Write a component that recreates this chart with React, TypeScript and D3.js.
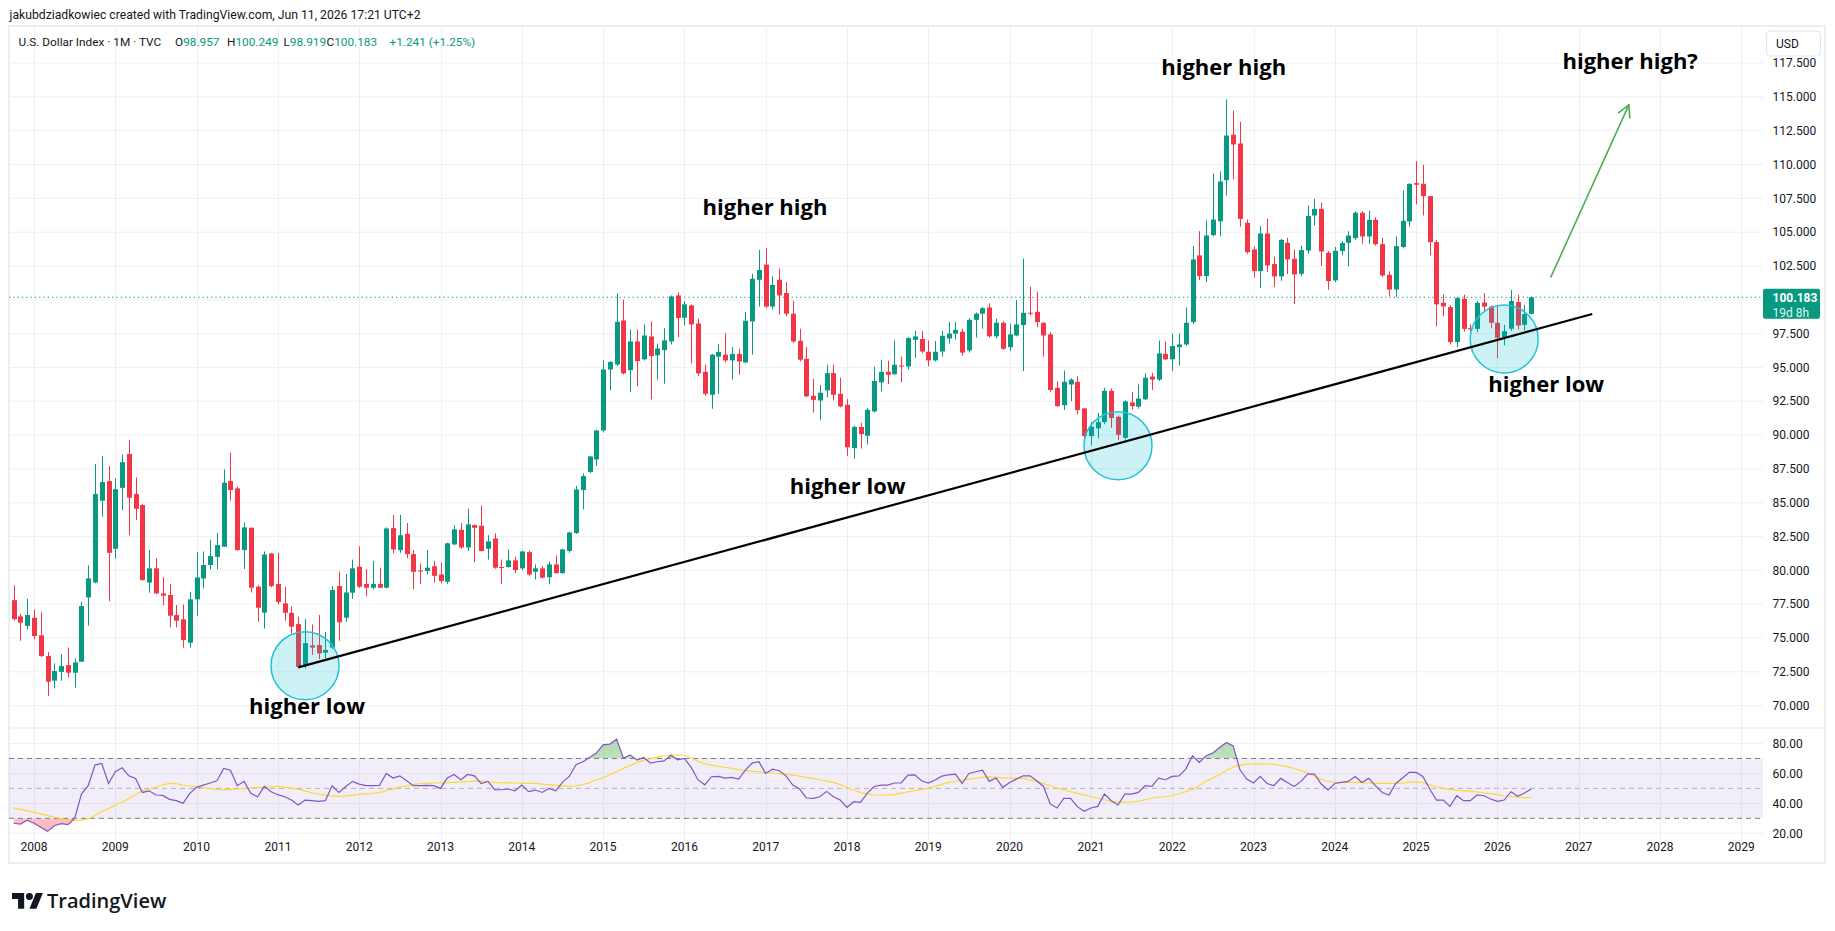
import * as d3 from "d3";

// Monthly bars of the U.S. Dollar Index, first bar = Oct 2007
const firstBarOffset = -3; // months relative to Jan 2008

const opens = [
  77.8, 76.6, 75.9,
  76.5, 75.2, 73.67, 71.85, 72.5, 73.0, 72.44, 73.25, 78.0, 79.11, 85.15, 86.6,
  81.6, 86.1, 88.6, 85.64, 84.83, 79.1, 80.15, 78.3, 78.18, 76.7, 76.38, 74.65,
  77.86, 79.4, 80.4, 81.0, 81.75, 86.6, 86.06, 81.5, 83.15, 78.8, 76.87, 81.25,
  79.0, 77.56, 76.87, 76.03, 73.0, 74.46, 74.48, 73.92, 74.3, 78.84, 76.5, 78.35,
  80.27, 79.0, 78.72, 79.0, 78.72, 83.13, 81.5, 82.7, 81.2, 80.0, 79.95, 80.3,
  79.7, 79.16, 81.92, 83.0, 81.7, 83.35, 83.3, 81.6, 82.36, 80.25, 80.25, 80.74,
  80.15, 81.35, 79.9, 80.15, 79.5, 80.44, 79.8, 81.43, 82.76, 85.94, 87.27, 88.2,
  90.34, 94.85, 95.22, 98.47, 94.8, 96.92, 95.6, 97.29, 95.9, 96.28, 96.92, 100.32,
  98.67, 99.58, 98.25, 94.68, 92.98, 95.8, 95.94, 95.52, 96.0, 95.37, 98.4, 101.48,
  102.6, 99.5, 101.48, 100.5, 98.97, 96.97, 95.64, 92.9, 92.56, 93.3, 94.58, 93.05,
  92.24, 89.04, 90.6, 89.95, 91.75, 93.9, 94.68, 94.5, 95.14, 95.07, 97.04, 97.1,
  96.16, 95.52, 96.18, 97.14, 97.5, 97.64, 96.26, 98.52, 98.97, 99.43, 97.3, 98.3,
  96.5, 97.36, 98.13, 99.04, 99.11, 98.3, 97.44, 93.5, 92.21, 93.74, 93.94, 91.97,
  89.93, 90.5, 90.96, 93.27, 91.35, 89.8, 92.41, 92.1, 92.64, 94.33, 94.1, 96.0,
  95.6, 96.5, 96.7, 98.35, 103.28, 101.75, 104.78, 105.8, 108.84, 112.2, 111.55, 105.69,
  103.72, 102.12, 104.9, 102.64, 101.73, 104.21, 103.03, 101.92, 103.64, 106.23, 106.72, 103.47,
  101.43, 103.6, 104.21, 104.56, 106.43, 104.68, 105.91, 104.11, 101.85, 100.76, 103.9, 105.79,
  108.62, 108.57, 107.66, 104.26, 99.78, 99.46, 96.87, 100.07, 97.9, 97.85, 99.8, 99.5,
  98.3, 97.24, 97.86, 99.83, 98.15, 98.957,
];

const highs = [
  78.9, 76.8, 77.9,
  77.1, 76.9, 73.97, 73.13, 73.8, 74.3, 73.5, 77.66, 80.37, 87.86, 88.45, 87.7,
  86.8, 88.57, 89.63, 86.87, 84.9, 81.5, 80.9, 79.5, 78.99, 77.44, 77.49, 78.42,
  81.38, 81.4, 82.24, 82.76, 87.46, 88.7, 86.2, 83.55, 83.18, 78.9, 81.4, 81.3,
  81.3, 78.8, 77.34, 76.58, 76.4, 76.0, 76.7, 75.45, 78.84, 79.9, 79.73, 80.8,
  81.78, 80.1, 80.7, 80.2, 83.18, 84.09, 84.1, 83.5, 81.5, 80.5, 81.5, 80.7,
  80.57, 82.05, 83.33, 83.5, 84.56, 83.4, 84.8, 82.6, 82.73, 80.8, 81.55, 81.0,
  81.45, 81.45, 80.44, 80.3, 80.66, 81.1, 81.6, 82.85, 86.23, 87.17, 88.45, 90.4,
  95.52, 95.47, 100.47, 100.0, 97.8, 97.8, 98.18, 98.4, 96.75, 97.9, 100.32, 100.54,
  99.9, 99.66, 98.6, 95.2, 96.0, 96.75, 97.54, 96.5, 96.38, 99.1, 101.92, 103.7,
  103.82, 101.77, 102.3, 101.3, 99.93, 97.86, 96.5, 94.16, 93.7, 95.2, 95.2, 94.24,
  92.66, 90.7, 90.9, 92.0, 95.05, 95.57, 95.5, 97.0, 95.8, 97.24, 97.7, 97.7,
  97.0, 96.95, 97.7, 98.37, 98.37, 97.86, 98.65, 99.06, 99.46, 99.73, 98.6, 98.4,
  98.25, 99.98, 103.05, 100.96, 100.6, 98.35, 97.6, 93.99, 94.78, 94.2, 94.36, 92.0,
  90.96, 91.65, 93.5, 93.44, 91.45, 92.56, 93.2, 93.74, 94.56, 94.6, 96.99, 96.92,
  97.5, 97.5, 99.43, 103.97, 105.07, 105.86, 109.33, 109.5, 114.8, 113.99, 113.15, 105.94,
  103.95, 105.44, 105.98, 103.18, 104.5, 104.58, 103.72, 104.0, 106.97, 107.46, 107.17, 103.6,
  103.9, 104.33, 105.07, 106.55, 106.55, 106.58, 106.1, 104.58, 102.1, 104.7, 108.08, 108.6,
  110.25, 109.98, 107.66, 104.43, 100.4, 99.6, 100.2, 100.37, 98.2, 99.9, 100.5, 99.58,
  99.58, 98.15, 100.73, 100.37, 99.63, 100.249,
];

const lows = [
  76.3, 74.8, 75.64,
  74.9, 73.6, 70.71, 71.28, 71.85, 72.1, 71.33, 73.25, 75.91, 79.04, 83.97, 77.73,
  80.86, 84.46, 82.6, 83.72, 79.24, 78.35, 78.25, 77.44, 75.79, 75.79, 74.29, 74.29,
  76.65, 78.67, 80.07, 80.07, 81.75, 85.15, 81.45, 80.1, 78.37, 76.2, 75.7, 78.75,
  77.5, 76.28, 75.34, 72.83, 72.76, 73.75, 73.45, 73.5, 74.2, 74.8, 76.2, 77.9,
  78.7, 78.1, 78.6, 78.7, 78.67, 81.26, 81.3, 80.9, 78.6, 79.0, 79.7, 79.1,
  79.05, 79.0, 81.85, 81.6, 81.43, 80.6, 81.4, 80.8, 80.12, 79.0, 80.2, 79.8,
  80.0, 79.6, 79.33, 79.4, 78.97, 79.75, 79.75, 81.3, 82.7, 84.5, 87.2, 87.7,
  90.2, 93.3, 95.1, 94.48, 93.18, 93.6, 95.5, 92.64, 94.1, 93.8, 96.7, 97.24,
  98.1, 95.3, 94.36, 92.9, 91.95, 93.05, 95.37, 94.1, 94.46, 95.3, 95.94, 99.5,
  99.4, 99.3, 98.9, 98.77, 96.8, 95.45, 92.8, 91.67, 91.1, 92.8, 92.56, 92.05,
  88.47, 88.25, 89.0, 89.3, 91.67, 93.23, 93.77, 94.45, 93.9, 94.85, 95.7, 96.05,
  95.07, 95.44, 95.8, 96.75, 97.05, 95.86, 96.1, 97.2, 97.86, 97.2, 97.14, 96.3,
  96.2, 97.3, 94.73, 98.84, 97.98, 95.8, 93.2, 92.09, 91.85, 92.5, 91.53, 89.7,
  89.24, 89.75, 90.8, 90.54, 89.63, 89.68, 91.9, 91.95, 92.6, 93.33, 94.0, 95.55,
  94.73, 95.15, 96.6, 98.2, 101.45, 101.3, 104.7, 104.7, 107.7, 108.9, 105.4, 103.4,
  101.63, 100.86, 102.04, 100.94, 101.4, 101.9, 99.7, 101.75, 103.4, 105.49, 102.5, 100.74,
  101.3, 103.27, 102.46, 104.4, 104.14, 104.14, 104.0, 101.7, 100.25, 100.2, 103.8, 105.4,
  107.04, 106.23, 103.28, 98.03, 98.8, 96.7, 96.5, 97.66, 97.5, 97.6, 99.1, 97.9,
  95.69, 96.63, 97.7, 97.8, 97.73, 98.919,
];

const closes = [
  76.4, 76.13, 76.7,
  75.15, 73.67, 71.77, 72.56, 72.93, 72.44, 73.2, 77.36, 79.41, 85.64, 86.53, 81.3,
  86.0, 88.0, 85.37, 84.56, 79.29, 80.15, 78.3, 78.13, 76.65, 76.28, 74.85, 77.86,
  79.48, 80.4, 81.06, 81.87, 86.48, 85.94, 81.5, 83.18, 78.72, 77.24, 81.18, 78.84,
  77.66, 76.87, 75.84, 72.88, 74.63, 74.3, 73.87, 74.12, 78.55, 76.16, 78.37, 80.15,
  78.79, 78.72, 79.0, 78.72, 83.1, 81.55, 82.6, 81.2, 79.9, 79.92, 80.2, 79.6,
  79.21, 82.0, 83.03, 81.7, 83.4, 83.15, 81.43, 82.14, 80.2, 80.2, 80.74, 80.03,
  81.4, 79.7, 80.15, 79.46, 80.44, 79.8, 81.55, 82.8, 85.98, 86.97, 88.42, 90.34,
  94.85, 95.4, 98.37, 94.56, 96.92, 95.47, 97.36, 95.84, 96.4, 97.0, 100.25, 98.65,
  99.66, 98.18, 94.56, 93.05, 95.94, 96.15, 95.52, 96.0, 95.44, 98.45, 101.55, 102.2,
  99.5, 101.1, 100.32, 98.97, 96.92, 95.57, 92.86, 92.6, 93.13, 94.58, 92.98, 92.12,
  89.1, 90.6, 90.07, 91.87, 94.0, 94.68, 94.46, 95.2, 95.12, 97.17, 97.29, 96.18,
  95.52, 96.16, 97.34, 97.5, 97.78, 96.1, 98.52, 98.97, 99.38, 97.3, 98.3, 96.38,
  97.44, 98.18, 99.04, 98.97, 98.35, 97.36, 93.33, 92.14, 93.94, 94.1, 91.85, 89.93,
  90.62, 90.96, 93.27, 91.26, 90.02, 92.49, 92.14, 92.7, 94.24, 94.1, 96.04, 95.6,
  96.58, 96.7, 98.3, 102.98, 101.75, 104.75, 105.93, 108.74, 112.14, 111.48, 105.98, 103.52,
  102.12, 104.9, 102.54, 101.73, 104.43, 102.98, 101.87, 103.67, 106.2, 106.72, 103.57, 101.38,
  103.62, 104.2, 104.75, 106.43, 104.68, 105.91, 104.11, 101.8, 100.76, 103.97, 105.84, 108.57,
  108.5, 107.66, 104.26, 99.66, 99.51, 96.87, 100.12, 97.85, 97.8, 99.78, 99.5, 98.3,
  97.19, 97.68, 99.9, 98.1, 98.942, 100.183,
];

// RSI(14) and its moving average, one value per bar
const rsi = [
  26.7, 26.2, 28.7,
  26.7, 24.0, 21.3, 25.1, 26.4, 25.8, 30.0, 46.2, 51.8, 65.6, 66.7, 53.3,
  61.1, 63.8, 58.4, 56.7, 47.3, 48.4, 45.6, 45.3, 42.7, 41.8, 40.0, 46.7,
  50.7, 52.2, 53.6, 55.1, 63.3, 62.2, 51.8, 54.7, 46.7, 44.4, 51.3, 47.8,
  45.8, 44.4, 42.2, 38.9, 42.2, 41.8, 41.3, 41.8, 51.8, 47.3, 51.1, 54.7,
  52.9, 51.8, 51.8, 52.0, 60.0, 56.9, 58.4, 55.1, 51.8, 51.8, 52.0, 51.8,
  50.0, 56.9, 59.3, 55.8, 59.3, 58.4, 53.3, 54.7, 49.1, 49.1, 49.6, 48.4,
  52.2, 47.8, 48.9, 47.3, 50.0, 48.4, 54.0, 58.0, 65.8, 67.8, 70.7, 73.6,
  79.1, 79.6, 82.9, 70.2, 72.4, 68.9, 70.7, 66.9, 67.8, 68.4, 72.2, 69.1,
  70.0, 64.0, 55.8, 52.4, 57.8, 58.0, 56.9, 57.3, 56.2, 62.2, 66.9, 67.8,
  60.0, 62.9, 61.8, 58.4, 52.2, 49.6, 43.6, 43.3, 44.4, 48.0, 44.4, 42.2,
  37.3, 41.1, 40.7, 46.9, 51.3, 52.2, 52.2, 53.6, 53.6, 58.9, 59.1, 55.1,
  53.6, 55.6, 58.2, 59.1, 59.6, 53.3, 60.0, 61.1, 62.2, 54.7, 56.9, 50.7,
  54.0, 56.2, 58.4, 58.4, 55.1, 51.3, 39.6, 36.9, 43.3, 43.3, 37.8, 34.7,
  36.9, 38.0, 46.2, 41.8, 38.9, 46.2, 46.2, 47.3, 51.8, 51.3, 56.9, 55.8,
  58.0, 58.4, 62.9, 71.8, 67.3, 71.8, 73.6, 77.3, 80.7, 78.4, 62.4, 56.2,
  53.6, 58.0, 53.3, 51.8, 56.7, 54.0, 51.3, 54.7, 59.6, 59.6, 52.9, 48.9,
  53.3, 54.0, 54.7, 58.0, 54.0, 56.7, 51.8, 47.3, 45.6, 53.3, 56.9, 60.7,
  60.7, 58.0, 49.6, 42.2, 42.2, 38.0, 45.1, 41.8, 41.8, 45.6, 45.1, 42.9,
  41.3, 42.2, 47.8, 44.7, 46.9, 49.6,
];

const rsiMa = [
  37.0, 36.0, 35.0,
  34.0, 33.0, 31.8, 30.7, 29.8, 28.9, 28.5, 28.8, 29.6, 32.0, 34.5, 36.5,
  38.7, 40.7, 43.3, 45.9, 48.4, 49.6, 50.8, 52.3, 53.4, 53.2, 52.1, 51.6,
  51.0, 50.5, 49.9, 49.3, 49.2, 49.4, 49.6, 49.9, 50.3, 50.6, 50.9, 51.1,
  51.3, 50.8, 50.2, 49.4, 48.3, 47.1, 46.1, 45.5, 45.0, 44.7, 45.0, 45.5,
  46.0, 46.3, 46.6, 47.4, 48.5, 49.7, 50.7, 51.7, 52.7, 53.1, 53.4, 53.6,
  53.7, 53.8, 54.0, 54.3, 54.5, 54.8, 55.0, 54.6, 54.0, 53.9, 53.7, 53.6,
  53.5, 53.4, 53.3, 52.9, 52.5, 52.0, 51.7, 51.3, 51.7, 52.6, 53.9, 55.6,
  57.1, 59.1, 61.3, 63.4, 65.3, 67.2, 68.9, 69.9, 70.9, 71.8, 72.3, 72.3,
  72.0, 70.5, 68.2, 66.5, 65.6, 64.8, 64.0, 63.4, 62.4, 62.0, 61.6, 61.1,
  60.7, 60.3, 59.9, 59.5, 58.9, 58.1, 57.4, 56.7, 55.8, 54.9, 54.0, 52.5,
  50.6, 48.9, 47.2, 46.3, 45.7, 45.6, 45.7, 45.9, 46.8, 47.7, 48.5, 49.3,
  50.0, 51.4, 52.7, 54.0, 54.8, 55.5, 56.2, 56.8, 57.4, 57.7, 57.4, 57.0,
  56.9, 56.8, 56.7, 55.8, 54.5, 53.2, 51.8, 50.3, 49.0, 47.9, 46.7, 45.7,
  44.6, 43.4, 42.4, 41.5, 40.8, 40.8, 41.0, 41.5, 42.4, 43.6, 44.1, 44.6,
  45.1, 46.4, 47.8, 49.1, 52.1, 54.6, 57.0, 59.3, 61.9, 64.3, 65.5, 66.2,
  66.4, 66.4, 66.3, 66.0, 65.3, 64.5, 63.3, 61.9, 60.4, 58.2, 56.0, 54.6,
  54.2, 54.0, 54.0, 54.0, 53.9, 53.6, 53.3, 53.3, 53.3, 53.3, 53.6, 54.0,
  54.3, 53.8, 52.4, 51.1, 50.0, 49.2, 48.7, 48.4, 48.2, 47.6, 47.0, 46.5,
  45.9, 45.1, 44.6, 44.2, 43.9, 44.0,
];

const yearLabels = [
  "2008", "2009", "2010", "2011", "2012", "2013", "2014", "2015", "2016", "2017", "2018",
  "2019", "2020", "2021", "2022", "2023", "2024", "2025", "2026", "2027", "2028", "2029",
];
const priceLabels = [
  70, 72.5, 75, 77.5, 80, 82.5, 85, 87.5, 90, 92.5, 95, 97.5, 100, 102.5, 105, 107.5,
  110, 112.5, 115, 117.5,
];
const rsiLabels = [20, 40, 60, 80];

// drawings, anchored in (months since Jan 2008, price)
const notes = [
  { text: "higher high", month: 175.6, price: 117.2 },
  { text: "higher high", month: 107.9, price: 106.8 },
  { text: "higher high?", month: 235.6, price: 117.65 },
  { text: "higher low", month: 120.1, price: 86.24 },
  { text: "higher low", month: 40.3, price: 69.98 },
  { text: "higher low", month: 223.2, price: 93.78 },
];
const circles = [
  { month: 40, price: 72.96 },
  { month: 160, price: 89.22 },
  { month: 217, price: 97.1 },
];
const trendLine = [
  { month: 39, price: 72.83 },
  { month: 230, price: 98.95 },
];
const arrowLine = [
  { month: 223.9, price: 101.69 },
  { month: 235.4, price: 114.4 },
];

const W = 1835;
const H = 931;
const paneL = 9;
const paneR = 1763;
const paneT = 26;
const paneB = 728;
const rsiB = 840;
const frameR = 1825;
const frameB = 863;

const UP = "#089981";
const DOWN = "#F23645";
const GRID = "#eef0f4";
const TEXT = "#131722";
const FONT = "Roboto, 'Liberation Sans', sans-serif";

const x = d3.scaleLinear().domain([0, 12]).range([34, 115.3]);
const y = d3.scaleLinear().domain([70, 117.5]).range([705.7, 63.0]);
const yR = d3.scaleLinear().domain([20, 80]).range([833.3, 743.5]);

const barX = (i: number) => x(i + firstBarOffset);

export default function App() {
  const last = closes.length - 1;
  const change = closes[last] - closes[last - 1];
  const pct = (change / closes[last - 1]) * 100;
  const sign = change >= 0 ? "+" : "";

  const rsiLine = d3
    .line<number>()
    .x((_, i) => barX(i))
    .y((v) => yR(v));
  const rsiArea = d3
    .area<number>()
    .x((_, i) => barX(i))
    .y0(yR(70))
    .y1((v) => yR(v));
  const rsiAreaLow = d3
    .area<number>()
    .x((_, i) => barX(i))
    .y0(yR(30))
    .y1((v) => yR(v));

  // arrow head geometry
  const ax0 = x(arrowLine[0].month);
  const ay0 = y(arrowLine[0].price);
  const ax1 = x(arrowLine[1].month);
  const ay1 = y(arrowLine[1].price);
  const ang = Math.atan2(ay1 - ay0, ax1 - ax0);
  const headLen = 13;
  const head = [ang + Math.PI - 0.5, ang + Math.PI + 0.5].map((a) => [
    ax1 + headLen * Math.cos(a),
    ay1 + headLen * Math.sin(a),
  ]);

  const lastPriceY = y(closes[last]);

  return (
    <div style={{ position: "absolute", left: 0, top: 0 }}>
      <svg width={W} height={H} style={{ display: "block", background: "#fff" }} fontFamily={FONT}>
        <defs>
          <clipPath id="pane">
            <rect x={paneL} y={paneT} width={paneR - paneL} height={paneB - paneT} />
          </clipPath>
          <clipPath id="above70">
            <rect x={paneL} y={paneB} width={paneR - paneL} height={yR(70) - paneB} />
          </clipPath>
          <clipPath id="below30">
            <rect x={paneL} y={yR(30)} width={paneR - paneL} height={rsiB - yR(30)} />
          </clipPath>
          <linearGradient id="obFill" x1="0" y1="0" x2="0" y2="1">
            <stop offset="0" stopColor="#4caf50" stopOpacity={0.45} />
            <stop offset="1" stopColor="#4caf50" stopOpacity={0.05} />
          </linearGradient>
          <linearGradient id="osFill" x1="0" y1="0" x2="0" y2="1">
            <stop offset="0" stopColor="#f23645" stopOpacity={0.05} />
            <stop offset="1" stopColor="#f23645" stopOpacity={0.35} />
          </linearGradient>
        </defs>

        <rect width={W} height={H} fill="#fff" />

        {/* header */}
        <text x={9.5} y={19} fontSize={12.2} fill={TEXT}>
          jakubdziadkowiec created with TradingView.com, Jun 11, 2026 17:21 UTC+2
        </text>

        {/* frame */}
        <rect
          x={paneL}
          y={paneT}
          width={frameR - paneL}
          height={frameB - paneT}
          fill="none"
          stroke="#e6e9ef"
          strokeWidth={1.5}
        />

        {/* grid */}
        {priceLabels.map((p) => (
          <line key={"hg" + p} x1={paneL} x2={paneR} y1={y(p)} y2={y(p)} stroke={GRID} />
        ))}
        {rsiLabels.map((r) => (
          <line key={"rg" + r} x1={paneL} x2={paneR} y1={yR(r)} y2={yR(r)} stroke={GRID} />
        ))}
        {yearLabels.map((_, k) => (
          <line
            key={"vg" + k}
            x1={Math.round(x(k * 12)) + 0.5}
            x2={Math.round(x(k * 12)) + 0.5}
            y1={paneT}
            y2={rsiB}
            stroke={GRID}
          />
        ))}
        <line x1={paneL} x2={frameR} y1={paneB} y2={paneB} stroke="#e6e9ef" />

        {/* legend */}
        <text y={46} fontSize={11.8} fill={TEXT}>
          <tspan x={18.5}>U.S. Dollar Index · 1M · TVC</tspan>
          <tspan x={175}>O</tspan>
          <tspan fill={UP}>{opens[last].toFixed(3)}</tspan>
          <tspan x={227}>H</tspan>
          <tspan fill={UP}>{highs[last].toFixed(3)}</tspan>
          <tspan x={283.5}>L</tspan>
          <tspan fill={UP}>{lows[last].toFixed(3)}</tspan>
          <tspan x={326.5}>C</tspan>
          <tspan fill={UP}>{closes[last].toFixed(3)}</tspan>
          <tspan x={389.5} fill={UP}>
            {`${sign}${change.toFixed(3)} (${sign}${pct.toFixed(2)}%)`}
          </tspan>
        </text>

        {/* candles */}
        <g clipPath="url(#pane)">
          <line
            x1={paneL}
            x2={paneR}
            y1={lastPriceY}
            y2={lastPriceY}
            stroke={UP}
            strokeWidth={1}
            strokeDasharray="1.3 3"
          />
          {closes.map((c, i) => {
            const o = opens[i];
            const col = c >= o ? UP : DOWN;
            const cx = Math.round(barX(i)) + 0.5;
            const top = y(Math.max(o, c));
            const bot = y(Math.min(o, c));
            return (
              <g key={i}>
                <line x1={cx} x2={cx} y1={y(highs[i])} y2={y(lows[i])} stroke={col} strokeWidth={1} />
                <rect x={cx - 2.5} y={top} width={5} height={Math.max(1, bot - top)} fill={col} />
              </g>
            );
          })}

          {circles.map((c, i) => (
            <circle
              key={"c" + i}
              cx={x(c.month)}
              cy={y(c.price)}
              r={34}
              fill="rgba(0, 188, 212, 0.2)"
              stroke="#22c3d8"
              strokeWidth={1.5}
            />
          ))}

          <line
            x1={x(trendLine[0].month)}
            y1={y(trendLine[0].price)}
            x2={x(trendLine[1].month)}
            y2={y(trendLine[1].price)}
            stroke="#000"
            strokeWidth={2.2}
          />

          <g stroke="#4caf50" strokeWidth={1.6} strokeLinecap="round" fill="none">
            <line x1={ax0} y1={ay0} x2={ax1} y2={ay1} />
            {head.map(([hx, hy], i) => (
              <line key={"h" + i} x1={ax1} y1={ay1} x2={hx} y2={hy} />
            ))}
          </g>

          {notes.map((n, i) => (
            <text
              key={"n" + i}
              x={x(n.month)}
              y={y(n.price)}
              dy="0.35em"
              textAnchor="middle"
              fontFamily="'Open Sans', sans-serif"
              fontWeight={700}
              fontSize={22}
              fill="#000"
            >
              {n.text}
            </text>
          ))}
        </g>

        {/* RSI pane */}
        <rect
          x={paneL}
          y={yR(70)}
          width={paneR - paneL}
          height={yR(30) - yR(70)}
          fill="rgba(126, 87, 194, 0.1)"
        />
        <path d={rsiArea(rsi) ?? ""} fill="url(#obFill)" clipPath="url(#above70)" />
        <path d={rsiAreaLow(rsi) ?? ""} fill="url(#osFill)" clipPath="url(#below30)" />
        {[70, 30].map((v) => (
          <line
            key={"d" + v}
            x1={paneL}
            x2={paneR}
            y1={yR(v)}
            y2={yR(v)}
            stroke="#787b86"
            strokeDasharray="5 4"
          />
        ))}
        <line
          x1={paneL}
          x2={paneR}
          y1={yR(50)}
          y2={yR(50)}
          stroke="#b2b5be"
          strokeDasharray="5 4"
        />
        <path d={rsiLine(rsiMa) ?? ""} fill="none" stroke="#FDD835" strokeWidth={1.2} />
        <path d={rsiLine(rsi) ?? ""} fill="none" stroke="#7E57C2" strokeWidth={1.2} />

        {/* price scale */}
        {priceLabels.map((p) => (
          <text key={"pl" + p} x={1772.5} y={y(p)} dy="0.35em" fontSize={12} fill={TEXT}>
            {p.toFixed(3)}
          </text>
        ))}
        {rsiLabels.map((r) => (
          <text key={"rl" + r} x={1772.5} y={yR(r)} dy="0.35em" fontSize={12} fill={TEXT}>
            {r.toFixed(2)}
          </text>
        ))}

        {/* last price tag */}
        <rect x={paneR} y={lastPriceY - 8.5} width={57} height={30} rx={2} fill={UP} />
        <text x={1772.5} y={lastPriceY} dy="0.35em" fontSize={12} fontWeight={700} fill="#fff">
          {closes[last].toFixed(3)}
        </text>
        <text x={1772.5} y={lastPriceY + 15} dy="0.35em" fontSize={12} fill="#fff" fillOpacity={0.9}>
          19d 8h
        </text>

        {/* currency button */}
        <rect x={1766.5} y={31} width={54} height={25} rx={4} fill="#fff" stroke="#e0e3eb" />
        <text x={1776} y={43.5} dy="0.35em" fontSize={12} fill={TEXT}>
          USD
        </text>

        {/* time axis */}
        {yearLabels.map((label, k) => (
          <text
            key={"yl" + label}
            x={x(k * 12)}
            y={851}
            textAnchor="middle"
            fontSize={12}
            fill={TEXT}
          >
            {label}
          </text>
        ))}

        {/* brand */}
        <g transform="translate(12 889.5) scale(0.87)" fill={TEXT}>
          <path d="M14 22H7V11H0V4h14v18z" />
          <circle cx={20} cy={8} r={4} />
          <path d="M28 22h-8l7.5-18h8L28 22z" />
        </g>
        <text
          x={47}
          y={908}
          fontFamily="'Open Sans', sans-serif"
          fontWeight={600}
          fontSize={20}
          fill={TEXT}
        >
          TradingView
        </text>
      </svg>
    </div>
  );
}
